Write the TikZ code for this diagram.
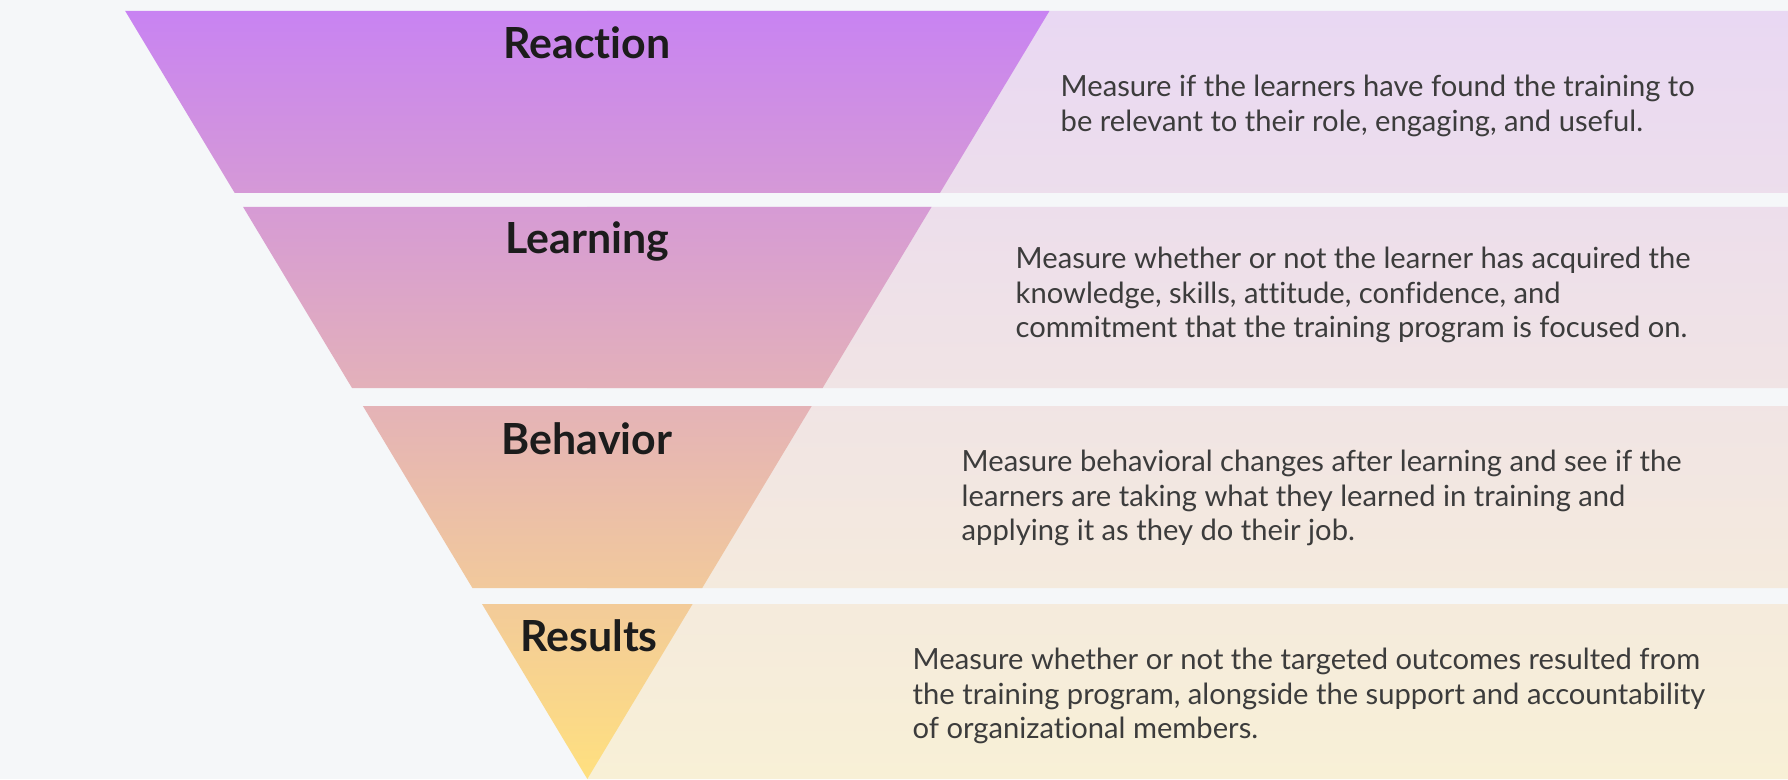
\documentclass[tikz,border=0pt]{standalone}
\usepackage{fontspec}
\setmainfont{Lato}[Ligatures=NoCommon]

\definecolor{pagebg}{HTML}{F5F7F9}
\definecolor{funneltop}{HTML}{C883F2}
\definecolor{funnelmid}{HTML}{E5B6BB}
\definecolor{funnelbot}{HTML}{FFE07F}
\definecolor{paneltop}{HTML}{E9D8F3}
\definecolor{panelmid}{HTML}{F2E4EB}
\definecolor{panelbot}{HTML}{F8F0D6}
\definecolor{titleink}{HTML}{1C1C1C}
\definecolor{descink}{HTML}{3C3C3C}

\begin{document}
\begin{tikzpicture}
	\tikzstyle{title} = [font=\fontsize{12.2}{14}\selectfont\bfseries, text=titleink, inner sep=0]
	\tikzstyle{desc} = [font=\fontsize{8.3}{9.75}\selectfont, text=descink, align=left, anchor=west, inner sep=0]
	\useasboundingbox (0,0) rectangle (17.88,7.79);
	\fill[pagebg] (0,0) rectangle (17.88,7.79);
	% text panels, the funnel goes on top of them
	\shade[top color=paneltop, middle color=panelmid, bottom color=panelbot]
		(5.87,5.86) rectangle (17.88,7.68)
		(5.87,3.91) rectangle (17.88,5.72)
		(5.87,1.91) rectangle (17.88,3.73)
		(5.87,0.00) rectangle (17.88,1.75);
	% funnel bands
	\shade[top color=funneltop, middle color=funnelmid, bottom color=funnelbot]
		(1.252,7.68) -- (10.494,7.68) -- (9.399,5.86) -- (2.347,5.86) -- cycle
		(2.431,5.72) -- (9.315,5.72) -- (8.226,3.91) -- (3.520,3.91) -- cycle
		(3.629,3.73) -- (8.117,3.73) -- (7.022,1.91) -- (4.724,1.91) -- cycle
		(4.820,1.75) -- (6.926,1.75) -- (5.873,0.00) -- cycle;
	\node[title] (reaction) at (5.87, 7.36) {Reaction};
	\node[title] (learning) at (5.87, 5.38) {Learning};
	\node[title] (behavior) at (5.87, 3.40) {Behavior};
	\node[title] (results) at (5.89, 1.43) {Results};
	\node[desc] (reactiontext) at (10.60, 6.73) {Measure if the learners have found the training to\\be relevant to their role, engaging, and useful.};
	\node[desc] (learningtext) at (10.15, 4.84) {Measure whether or not the learner has acquired the\\knowledge, skills, attitude, confidence, and\\commitment that the training program is focused on.};
	\node[desc] (behaviortext) at (9.61, 2.81) {Measure behavioral changes after learning and see if the\\learners are taking what they learned in training and\\applying it as they do their job.};
	\node[desc] (resultstext) at (9.12, 0.83) {Measure whether or not the targeted outcomes resulted from\\the training program, alongside the support and accountability\\of organizational members.};
\end{tikzpicture}
\end{document}
